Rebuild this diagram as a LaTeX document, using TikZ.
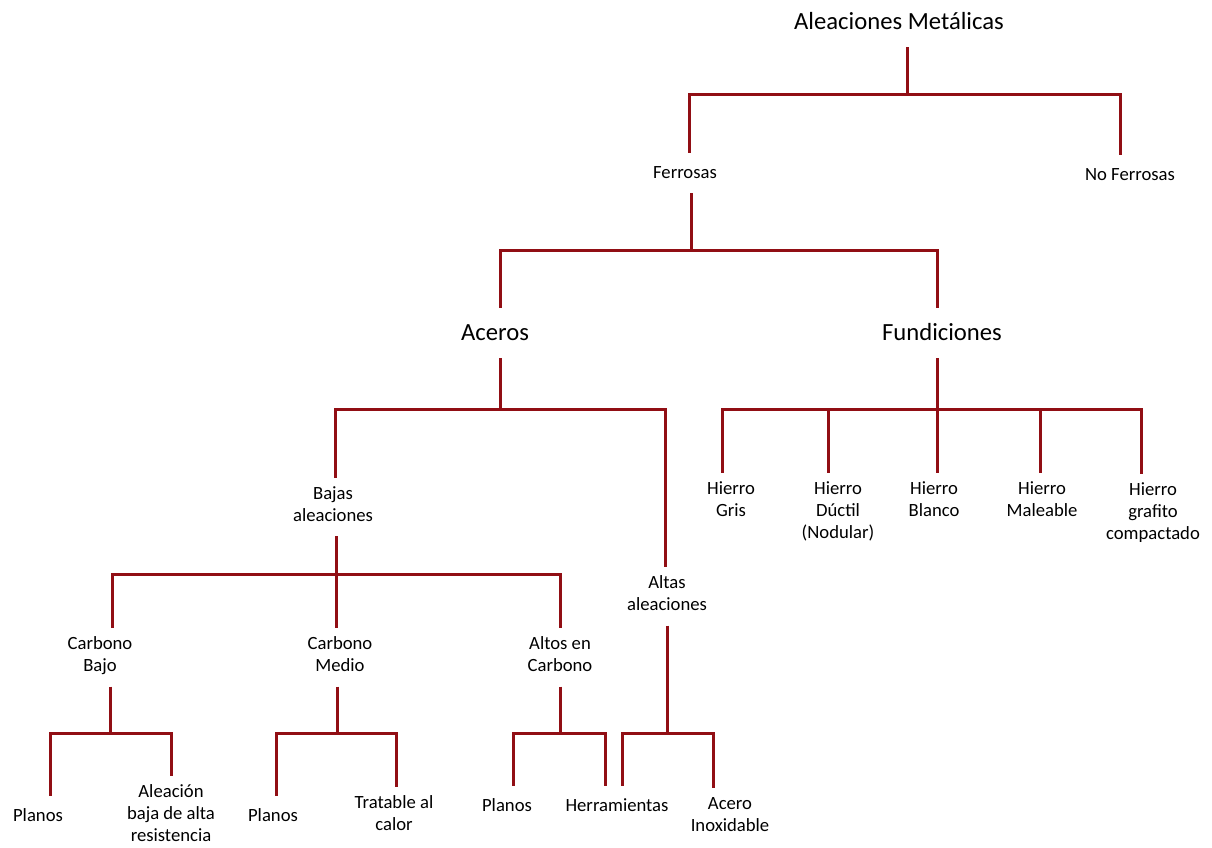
\documentclass[tikz,border=0pt]{standalone}
\usepackage{fontspec}
\setmainfont{Carlito}
\definecolor{linkred}{RGB}{145,14,20}
% line struts so that a node's box is centred on the visual middle of its text
\newcommand{\smallstrut}{\rule[-4.125pt]{0pt}{16.5pt}}
\newcommand{\largestrut}{\rule[-5.5pt]{0pt}{22.5pt}}
\begin{document}
\begin{tikzpicture}[x=0.75pt,y=-0.75pt,
  lbl/.style={font={\fontsize{14pt}{16.5pt}\selectfont}, align=center, inner xsep=0pt, inner ysep=6.75pt,
    execute at begin node=\smallstrut, execute at end node=\smallstrut},
  big/.style={font={\fontsize{18.5pt}{22pt}\selectfont}, align=center, inner xsep=0pt, inner ysep=7.5pt,
    execute at begin node=\largestrut, execute at end node=\largestrut},
  link/.style={draw=linkred, line width=2.25pt, line join=miter}]
\useasboundingbox (0,0) rectangle (1212,847);

% ---- labels ----
\node[big] (root)   at (899,22)  {Aleaciones Metálicas};
\node[lbl] (ferr)   at (685,173) {Ferrosas};
\node[lbl] (noferr) at (1130,175) {No Ferrosas};
\node[big] (aceros) at (495,333) {Aceros};
\node[big] (fund)   at (942,333) {Fundiciones};
\node[lbl] (bajas)  at (333,507) {Bajas\\aleaciones};
\node[lbl] (altas)  at (667,596) {Altas\\aleaciones};
\node[lbl] (hgris)  at (731,502) {Hierro\\Gris};
\node[lbl] (hduct)  at (838,513) {Hierro\\Dúctil\\(Nodular)};
\node[lbl] (hblan)  at (934,502) {Hierro\\Blanco};
\node[lbl] (hmal)   at (1042,502) {Hierro\\Maleable};
\node[lbl] (hgraf)  at (1153,514) {Hierro\\grafito\\compactado};
\node[lbl] (cbajo)  at (100,657) {Carbono\\Bajo};
\node[lbl] (cmed)   at (340,657) {Carbono\\Medio};
\node[lbl] (calto)  at (560,657) {Altos en\\Carbono};
\node[lbl] (plan1)  at (38,816)  {Planos};
\node[lbl] (aleac)  at (171,816) {Aleación\\baja de alta\\resistencia};
\node[lbl] (plan2)  at (273,816) {Planos};
\node[lbl] (trat)   at (394,816) {Tratable al\\calor};
\node[lbl] (plan3)  at (507,806) {Planos};
\node[lbl] (herr)   at (617,806) {Herramientas};
\node[lbl] (acero)  at (730,817) {Acero\\Inoxidable};

% ---- junction points on the horizontal bars ----
\coordinate (s0) at (907,94);  \coordinate (a0) at (689,94);  \coordinate (z0) at (1120,94);
\coordinate (s1) at (691,250); \coordinate (a1) at (500,250); \coordinate (z1) at (937,250);
\coordinate (s2) at (500,409); \coordinate (a2) at (335,409); \coordinate (z2) at (665,409);
\coordinate (s3) at (937,409); \coordinate (a3) at (722,409); \coordinate (z3) at (1141,409);
\coordinate (m3a) at (828,409); \coordinate (m3b) at (1040,409);
\coordinate (s4) at (336,574); \coordinate (a4) at (112,574); \coordinate (z4) at (560,574);
\coordinate (s5) at (110,733); \coordinate (a5) at (50,733);  \coordinate (z5) at (171,733);
\coordinate (s6) at (337,733); \coordinate (a6) at (276,733); \coordinate (z6) at (396,733);
\coordinate (s7) at (560,733); \coordinate (a7) at (513,733); \coordinate (z7) at (605,733);
\coordinate (s8) at (667,733); \coordinate (a8) at (622,733); \coordinate (z8) at (713,733);

% ---- connectors ----
% Aleaciones Metálicas
\draw[link] (root.south -| s0) -- (s0);
\draw[link] (ferr.north -| a0) -- (a0) -- (z0) -- (noferr.north -| z0);
% Ferrosas
\draw[link] (ferr.south -| s1) -- (s1);
\draw[link] (aceros.north -| a1) -- (a1) -- (z1) -- (fund.north -| z1);
% Aceros
\draw[link] (aceros.south -| s2) -- (s2);
\draw[link] (bajas.north -| a2) -- (a2) -- (z2) -- (altas.north -| z2);
% Fundiciones
\draw[link] (fund.south -| s3) -- (s3) -- (hblan.north -| s3);
\draw[link] (hgris.north -| a3) -- (a3) -- (z3) -- (hgraf.north -| z3);
\draw[link] (m3a) -- (hduct.north -| m3a);
\draw[link] (m3b) -- (hmal.north -| m3b);
% Bajas aleaciones
\draw[link] (bajas.south -| s4) -- (s4) -- (cmed.north -| s4);
\draw[link] (cbajo.north -| a4) -- (a4) -- (z4) -- (calto.north -| z4);
% Carbono Bajo
\draw[link] (cbajo.south -| s5) -- (s5);
\draw[link] (plan1.north -| a5) -- (a5) -- (z5) -- (aleac.north -| z5);
% Carbono Medio
\draw[link] (cmed.south -| s6) -- (s6);
\draw[link] (plan2.north -| a6) -- (a6) -- (z6) -- (trat.north -| z6);
% Altos en Carbono
\draw[link] (calto.south -| s7) -- (s7);
\draw[link] (plan3.north -| a7) -- (a7) -- (z7) -- (herr.north -| z7);
% Altas aleaciones
\draw[link] (altas.south -| s8) -- (s8);
\draw[link] (herr.north -| a8) -- (a8) -- (z8) -- (acero.north -| z8);
\end{tikzpicture}
\end{document}
